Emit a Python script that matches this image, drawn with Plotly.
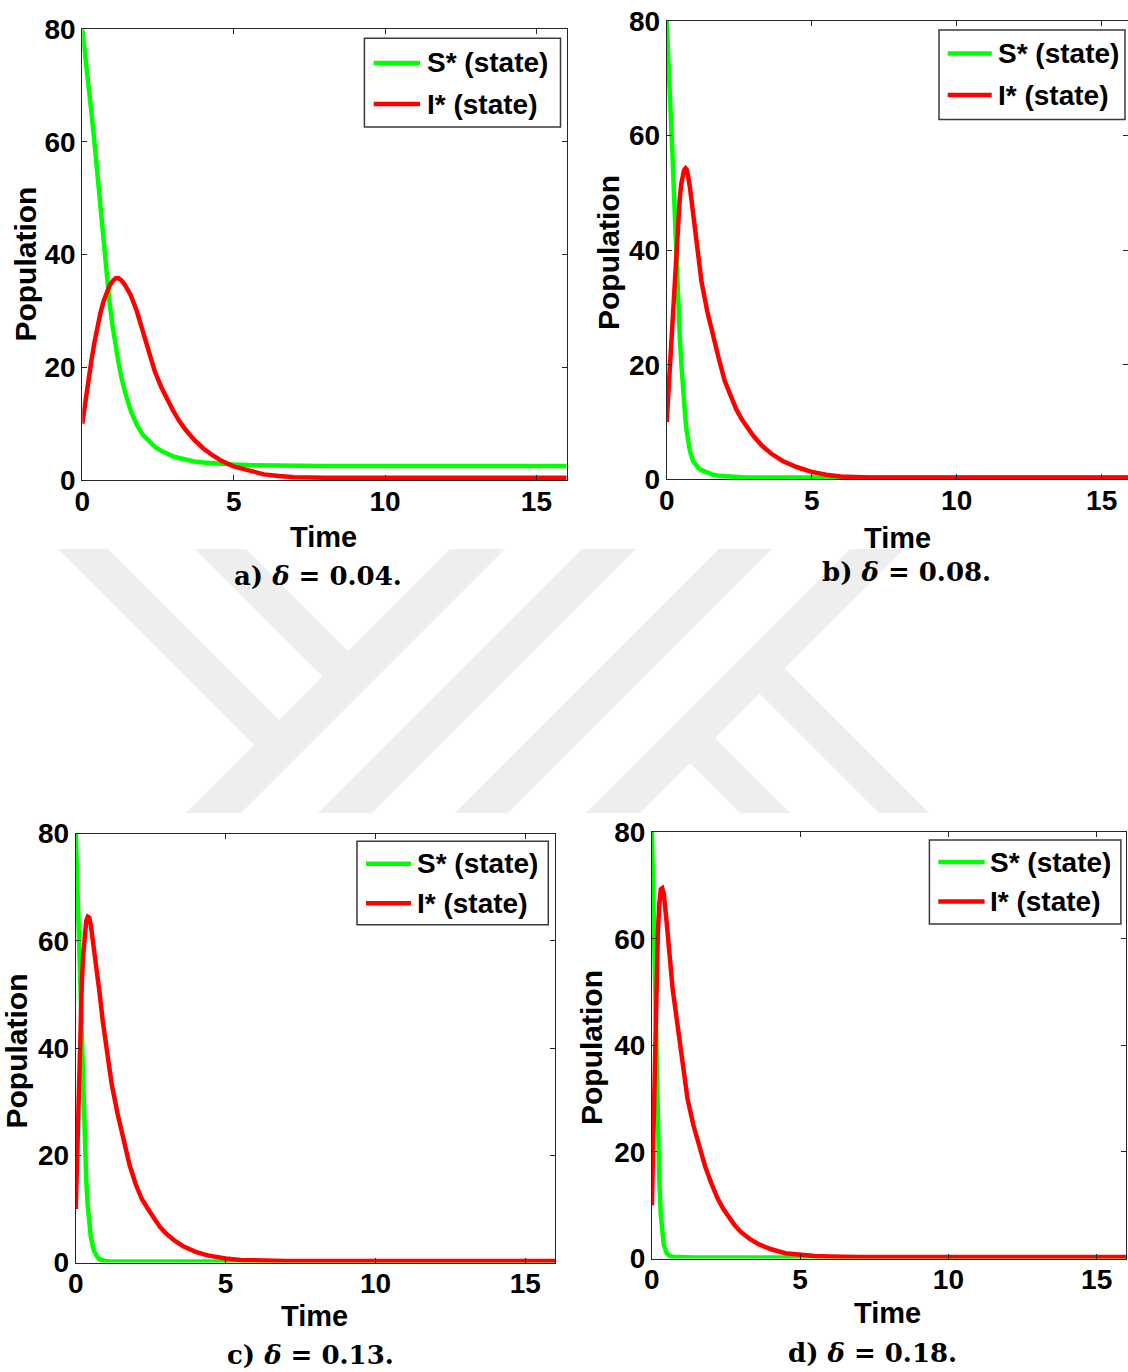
import plotly.graph_objects as go

W, H = 1128, 1372

# ---- data: four panels, time grid and state trajectories ----
T_A = [0, 0.1, 0.2, 0.3, 0.4, 0.5, 0.6, 0.7, 0.8, 0.9, 1.0, 1.1, 1.2, 1.3, 1.4,
       1.6, 1.8, 2.0, 2.2, 2.4, 2.6, 2.8, 3.0, 3.2, 3.4,
       3.7, 4.0, 4.3, 4.6, 5.0, 5.5, 6.0, 6.5, 7.0,
       8, 10, 12, 14, 16]
S_A = [80, 75.5, 70.5, 65.3, 60, 54.3, 48.3, 42.3, 36.5, 31.5, 27.3, 23.7, 20.7, 18.0, 15.8,
       12.3, 9.8, 8.0, 6.8, 5.9, 5.2, 4.65, 4.2, 3.9, 3.6,
       3.3, 3.1, 2.95, 2.85, 2.75, 2.65, 2.6, 2.55, 2.5,
       2.5, 2.5, 2.5, 2.5, 2.5]
I_A = [10, 14, 17.7, 21.2, 24.4, 27.2, 29.7, 31.7, 33.3, 34.5, 35.3, 35.8, 35.8, 35.4, 34.7,
       32.8, 30.0, 26.3, 22.4, 19.2, 16.6, 14.3, 12.3, 10.5, 9.0,
       7.1, 5.6, 4.4, 3.4, 2.4, 1.6, 1.0, 0.7, 0.5,
       0.4, 0.4, 0.4, 0.4, 0.4]

T_B = [0, 0.05, 0.1, 0.15, 0.2, 0.25, 0.3, 0.35, 0.4, 0.45, 0.5, 0.55, 0.6, 0.65, 0.7,
       0.8, 0.9, 1.0, 1.1, 1.2,
       1.4, 1.6, 1.8, 2.0, 2.2, 2.4, 2.6, 2.8, 3.0,
       3.3, 3.6, 4.0, 4.5, 5.0, 5.5, 6.0, 7.0,
       10, 13, 16]
S_B = [80, 75, 70, 63, 56.5, 50, 43, 37, 31, 25, 20.5, 16.5, 13, 10.2, 8,
       5, 3.3, 2.4, 1.9, 1.6,
       1.1, 0.8, 0.6, 0.5, 0.45, 0.4, 0.35, 0.3, 0.3,
       0.3, 0.3, 0.3, 0.3, 0.3, 0.3, 0.3, 0.3,
       0.3, 0.3, 0.3]
I_B = [10, 14.5, 19, 23.5, 28, 33, 38, 42.3, 46, 49, 51.5, 53, 54, 54.3, 54,
       51, 46.5, 42, 37.8, 34.5,
       29.3, 24.8, 21, 17.2, 14.6, 12.2, 10.4, 8.9, 7.5,
       5.8, 4.5, 3.2, 2.1, 1.3, 0.8, 0.5, 0.3,
       0.3, 0.3, 0.3]

T_C = [0, 0.05, 0.1, 0.15, 0.2, 0.25, 0.3, 0.35, 0.4, 0.45, 0.5,
       0.6, 0.7, 0.8, 0.9, 1.0, 1.1, 1.2,
       1.4, 1.6, 1.8, 2.0, 2.2, 2.4, 2.6, 2.8, 3.0,
       3.3, 3.6, 4.0, 4.4, 5.0, 5.5, 6.0, 7.0,
       10, 13, 16]
S_C = [80, 70, 60, 50, 41, 32, 22, 15, 10.5, 7, 4.8,
       2.3, 1.2, 0.6, 0.4, 0.3, 0.25, 0.2,
       0.2, 0.2, 0.2, 0.2, 0.2, 0.2, 0.2, 0.2, 0.2,
       0.2, 0.2, 0.2, 0.2, 0.2, 0.2, 0.2, 0.2,
       0.2, 0.2, 0.2]
I_C = [10, 22, 34, 44, 52, 57.5, 61.5, 63.8, 64.5, 64.3, 63,
       59, 54.5, 50, 45, 40.8, 36.8, 33.2,
       27.6, 22.6, 18.1, 14.6, 11.9, 10.1, 8.3, 6.7, 5.5,
       4.1, 3.0, 2.0, 1.35, 0.75, 0.5, 0.4, 0.3,
       0.3, 0.3, 0.3]

T_D = [0, 0.04, 0.08, 0.12, 0.16, 0.2, 0.25, 0.3, 0.35, 0.4,
       0.5, 0.6, 0.7, 0.8, 0.9, 1.0, 1.1, 1.2,
       1.4, 1.6, 1.8, 2.0, 2.2, 2.4, 2.6, 2.8, 3.0,
       3.3, 3.6, 4.0, 4.5, 5.0, 5.5, 6.0, 7.0,
       10, 13, 16]
S_D = [80, 70, 58, 44, 32, 23, 14.5, 8.3, 4.7, 2.6,
       1.0, 0.5, 0.35, 0.3, 0.25, 0.2, 0.2, 0.2,
       0.2, 0.2, 0.2, 0.2, 0.2, 0.2, 0.2, 0.2, 0.2,
       0.2, 0.2, 0.2, 0.2, 0.2, 0.2, 0.2, 0.2,
       0.2, 0.2, 0.2]
I_D = [10, 22, 34, 45, 54, 61, 66.5, 69.3, 69.5, 68.5,
       63, 56, 50.5, 46.5, 42, 37.5, 33.5, 30,
       25, 20.8, 17.2, 14.2, 11.5, 9.4, 7.6, 6.2, 5.0,
       3.7, 2.7, 1.8, 1.0, 0.7, 0.5, 0.4, 0.3,
       0.3, 0.3, 0.3]

DELTAS = ["0.04", "0.08", "0.13", "0.18"]
PANEL_LETTERS = ["a", "b", "c", "d"]
SERIES_NAMES = ["S* (state)", "I* (state)"]
X_TICKS = [0, 5, 10, 15]
Y_TICKS = [0, 20, 40, 60, 80]

GREEN = "#00ff00"
RED = "#ff0000"
AXIS_COLOR = "#262626"
SANS = "Liberation Sans, Arial, sans-serif"
SERIF = "DejaVu Serif, serif"


def px(x):
    return x / W


def py(y):
    return 1 - y / H


# pixel layout of each panel: plot box, x range, legend box, label anchors
panels = [
    dict(t=T_A, s=S_A, i=I_A, box=(82.3, 566.7, 29.3, 480.0), xmax=16,
         leg=(364.4, 560.5, 38.3, 127.0), leg_line=(373.7, 420.0), leg_text=424.7, rows=(63.0, 104.0),
         time=(323, 537), pop=(24.6, 264), cap=(318, 576)),
    dict(t=T_B, s=S_B, i=I_B, box=(666.7, 1128.0, 21.0, 479.3), xmax=(1128 - 666.7) / 29.0,
         leg=(939.0, 1125.0, 29.9, 119.4), leg_line=(947.7, 991.7), leg_text=996.0, rows=(53.6, 95.0),
         time=(897, 537.7), pop=(608, 253), cap=(906, 572)),
    dict(t=T_C, s=S_C, i=I_C, box=(75.8, 555.3, 833.6, 1262.6), xmax=16,
         leg=(357.0, 548.3, 841.2, 924.8), leg_line=(366.0, 411.0), leg_text=415.0, rows=(863.8, 903.2),
         time=(314, 1316), pop=(15.5, 1051), cap=(310, 1354.5)),
    dict(t=T_D, s=S_D, i=I_D, box=(651.9, 1126.3, 832.1, 1258.6), xmax=16,
         leg=(929.4, 1120.9, 840.1, 924.0), leg_line=(938.3, 984.6), leg_text=988.1, rows=(862.0, 901.4),
         time=(887.6, 1312.6), pop=(591, 1048), cap=(872, 1352.7)),
]

# light background emblem (diagonal bands between the two rows of panels)
EMBLEM = [
    [(450, 549), (505, 549), (241, 813), (186, 813)],
    [(582, 549), (636, 549), (372, 813), (318, 813)],
    [(719, 549), (772, 549), (508, 813), (455, 813)],
    [(850, 549), (904, 549), (640, 813), (586, 813)],
    [(58, 549), (108, 549), (292.75, 733.75), (267.75, 758.75)],
    [(195, 549), (246, 549), (361.75, 664.75), (336.25, 690.25)],
    [(740, 813), (790, 813), (701.5, 724.5), (676.5, 749.5)],
    [(879, 813), (929, 813), (771, 655), (746, 680)],
]

fig = go.Figure()
shapes = []
annotations = []

for poly in EMBLEM:
    path = "M " + " L ".join(f"{px(x):.5f},{py(y):.5f}" for x, y in poly) + " Z"
    shapes.append(dict(type="path", path=path, xref="paper", yref="paper",
                       fillcolor="#eeeeee", line=dict(width=0), layer="below"))

for k, p in enumerate(panels):
    suffix = "" if k == 0 else str(k + 1)
    xa, ya = "x" + suffix, "y" + suffix
    for vals, color in ((p["s"], GREEN), (p["i"], RED)):
        fig.add_trace(go.Scatter(x=p["t"], y=vals, mode="lines", xaxis=xa, yaxis=ya,
                                 line=dict(color=color, width=4.5), showlegend=False,
                                 hoverinfo="skip"))
    x0, x1, y0, y1 = p["box"]
    common = dict(showline=True, linecolor=AXIS_COLOR, linewidth=1, mirror="ticks",
                  ticks="inside", ticklen=5, tickcolor=AXIS_COLOR, tickwidth=1,
                  showgrid=False, zeroline=False, automargin=False,
                  tickfont=dict(family=SANS, size=28, weight="bold", color="black"))
    fig.update_layout(**{
        "xaxis" + suffix: dict(common, domain=[px(x0), px(x1)], range=[0, p["xmax"]],
                               tickvals=X_TICKS, anchor=ya, ticklabelstandoff=-4),
        "yaxis" + suffix: dict(common, domain=[py(y1), py(y0)], range=[0, 80],
                               tickvals=Y_TICKS, anchor=xa, ticklabelstandoff=0),
    })

    # legend box with line samples
    lx0, lx1, ly0, ly1 = p["leg"]
    shapes.append(dict(type="rect", xref="paper", yref="paper",
                       x0=px(lx0), x1=px(lx1), y0=py(ly1), y1=py(ly0),
                       line=dict(color="#3a3a3a", width=1.5), fillcolor="white"))
    for row_y, color, name in zip(p["rows"], (GREEN, RED), SERIES_NAMES):
        shapes.append(dict(type="line", xref="paper", yref="paper",
                           x0=px(p["leg_line"][0]), x1=px(p["leg_line"][1]),
                           y0=py(row_y), y1=py(row_y), line=dict(color=color, width=4.5)))
        annotations.append(dict(text=name, xref="paper", yref="paper",
                                x=px(p["leg_text"]), y=py(row_y), xanchor="left", yanchor="middle",
                                showarrow=False,
                                font=dict(family=SANS, size=28, weight="bold", color="black")))

    annotations.append(dict(text="Time", xref="paper", yref="paper",
                            x=px(p["time"][0]), y=py(p["time"][1]), xanchor="center", yanchor="middle",
                            showarrow=False, font=dict(family=SANS, size=29, weight="bold", color="black")))
    annotations.append(dict(text="Population", xref="paper", yref="paper", textangle=-90,
                            x=px(p["pop"][0]), y=py(p["pop"][1]), xanchor="center", yanchor="middle",
                            showarrow=False, font=dict(family=SANS, size=30, weight="bold", color="black")))
    annotations.append(dict(text=f"{PANEL_LETTERS[k]}) <i>δ</i> = {DELTAS[k]}.", xref="paper", yref="paper",
                            x=px(p["cap"][0]), y=py(p["cap"][1]), xanchor="center", yanchor="middle",
                            showarrow=False, font=dict(family=SERIF, size=26, weight="bold", color="black")))

fig.update_layout(width=W, height=H, margin=dict(l=0, r=0, t=0, b=0),
                  paper_bgcolor="white", plot_bgcolor="white",
                  shapes=shapes, annotations=annotations, showlegend=False)

fig.write_html("out.html")
